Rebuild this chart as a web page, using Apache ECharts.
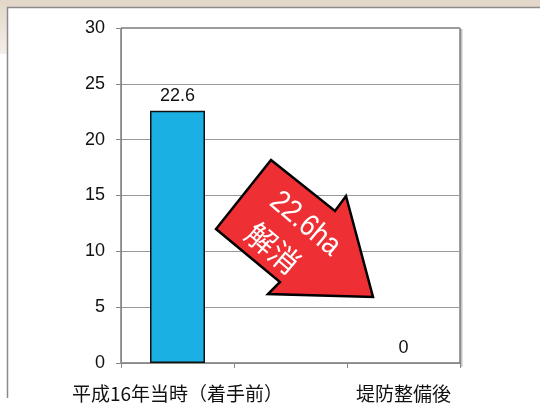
<!DOCTYPE html>
<html>
<head>
<meta charset="utf-8">
<script src="https://cdn.jsdelivr.net/npm/echarts@6/dist/echarts.min.js"></script>
<style>
  html, body { margin: 0; padding: 0; background: #fff; }
  #chart { width: 540px; height: 403px; }
</style>
</head>
<body>
<div id="chart"></div>
<script>
  // categories (middle slot is empty, the arrow sits there)
  const categories = ['平成16年当時（着手前）', '', '堤防整備後'];
  // 浸水面積 (ha)
  const areaValues = [22.6, null, 0];
  const yTicks = { min: 0, max: 30, step: 5 };
  const arrowLabel = ['22.6ha', '解消'];

  const chart = echarts.init(document.getElementById('chart'));

  // a 0 bar would draw its border as a line on the axis, so drop it there
  const barData = areaValues.map(v => {
    if (v === null) return '-';
    if (v === 0) return { value: v, itemStyle: { borderWidth: 0 } };
    return v;
  });

  chart.setOption({
    backgroundColor: '#fff',
    animation: false,
    grid: {
      left: 121, right: 80, top: 28, bottom: 38,
      show: true, borderColor: '#3a3a3a', borderWidth: 1
    },
    xAxis: {
      type: 'category',
      data: categories,
      axisLine: { lineStyle: { color: '#888', width: 1 } },
      axisTick: { show: true, length: 5, interval: 0, lineStyle: { color: '#888' } },
      axisLabel: {
        interval: 0, margin: 21, fontSize: 19, color: '#111',
        fontFamily: 'Noto Sans CJK JP'
      }
    },
    yAxis: {
      type: 'value',
      min: yTicks.min, max: yTicks.max, interval: yTicks.step,
      axisLine: { show: true, lineStyle: { color: '#888', width: 1 } },
      axisTick: { show: true, length: 5, lineStyle: { color: '#888' } },
      splitLine: { lineStyle: { color: '#999', width: 1 } },
      axisLabel: { margin: 16, fontSize: 18, color: '#111', fontFamily: 'Liberation Sans' }
    },
    series: [{
      type: 'bar',
      data: barData,
      barWidth: 55,
      itemStyle: { color: '#1AB0E3', borderColor: '#111', borderWidth: 1.5 },
      label: {
        show: true, position: 'top', distance: 6,
        fontSize: 18, color: '#111', fontFamily: 'Liberation Sans'
      }
    }],
    graphic: [
      // frame of the slide behind the chart
      { type: 'rect', z: -10, silent: true, shape: { x: 0, y: 0, width: 540, height: 7 },
        style: { fill: '#E2D7C8' } },
      { type: 'rect', z: -10, silent: true, shape: { x: 0, y: 0, width: 7, height: 54 },
        style: { fill: new echarts.graphic.LinearGradient(0, 0, 0, 1, [
          { offset: 0, color: '#E2D7C8' }, { offset: 1, color: '#F3EEE8' }]) } },
      { type: 'line', z: -9, silent: true, shape: { x1: 7.5, y1: 7, x2: 7.5, y2: 398 },
        style: { stroke: '#8a8a8a', lineWidth: 1.5 } },
      { type: 'line', z: -9, silent: true, shape: { x1: 7, y1: 7.5, x2: 540, y2: 7.5 },
        style: { stroke: '#8a8a8a', lineWidth: 1.5 } },
      // little shadow right of the plot box
      { type: 'line', z: -1, silent: true, shape: { x1: 461.5, y1: 29, x2: 461.5, y2: 367 },
        style: { stroke: '#c4c4c4', lineWidth: 2 } },
      // big red arrow
      { type: 'polygon', z: 20, silent: true,
        shape: { points: [[271, 160], [335, 211], [346, 196], [373, 297],
                          [268, 294], [280, 282], [216, 229]] },
        style: { fill: '#EE3035', stroke: '#000', lineWidth: 2.5, lineJoin: 'miter' } },
      { type: 'text', z: 21, silent: true, x: 305, y: 224,
        rotation: -40 * Math.PI / 180, scaleX: 0.86,
        style: { text: arrowLabel[0], fill: '#fff', fontSize: 31, fontFamily: 'Liberation Sans',
                 align: 'center', verticalAlign: 'middle' } },
      { type: 'text', z: 21, silent: true, x: 273, y: 248,
        rotation: -40 * Math.PI / 180,
        style: { text: arrowLabel[1], fill: '#fff', fontSize: 30, fontFamily: 'Noto Sans CJK JP',
                 align: 'center', verticalAlign: 'middle' } }
    ]
  });
</script>
</body>
</html>
